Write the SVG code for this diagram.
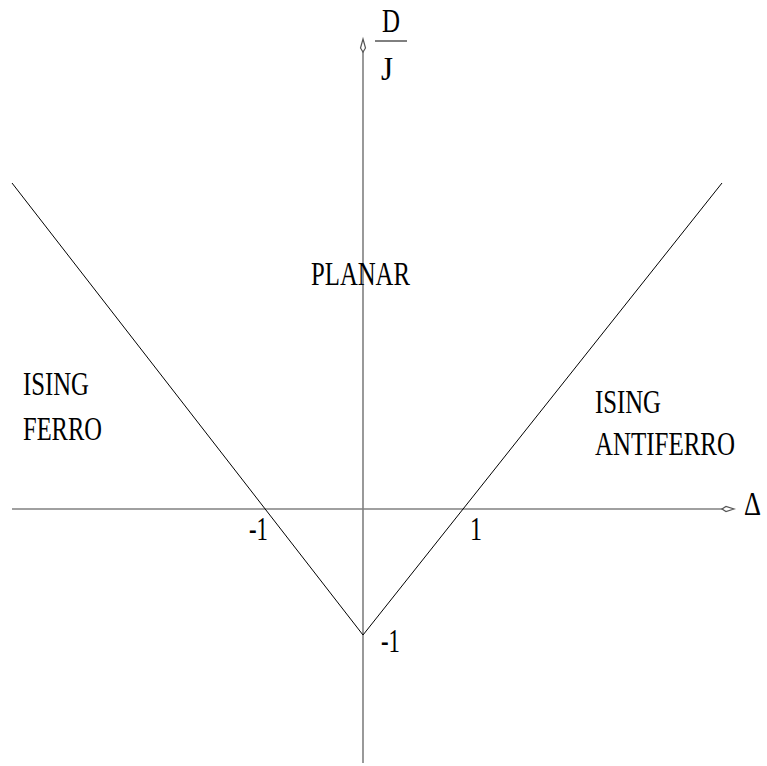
<svg xmlns="http://www.w3.org/2000/svg" width="767" height="766" viewBox="0 0 767 766">
<style>
.t{font-family:"Liberation Serif","Times New Roman",serif;font-size:33px;fill:#000}
.ax{stroke:#808080;stroke-width:1.6;fill:none}
.ln{stroke:#000;stroke-width:1;fill:none}
.ah{fill:#fff;stroke:#555;stroke-width:1.2}
</style>
<rect width="767" height="766" fill="#fff"/>
<g id="connectors">
<line class="ax" x1="363" y1="50" x2="363" y2="763"/>
<line class="ax" x1="12" y1="509" x2="724" y2="509"/>
<path class="ah" d="M363,39 L365.5,48 L363,52 L360.5,48 Z"/>
<path class="ah" d="M734,509 L726,511.5 L722,509 L726,506.5 Z"/>
<polyline class="ln" points="12,183 363,635 722,183"/>
</g>
<g id="axis-labels">
<text class="t" x="382" y="32" textLength="18" lengthAdjust="spacingAndGlyphs">D</text>
<line x1="375" y1="41" x2="407" y2="41" stroke="#000" stroke-width="1"/>
<text class="t" x="381" y="80" textLength="12" lengthAdjust="spacingAndGlyphs">J</text>
<text class="t" x="744" y="515" textLength="17" lengthAdjust="spacingAndGlyphs">Δ</text>
<text class="t" x="249" y="540" textLength="19" lengthAdjust="spacingAndGlyphs">-1</text>
<text class="t" x="470" y="540" textLength="12" lengthAdjust="spacingAndGlyphs">1</text>
<text class="t" x="381" y="652" textLength="19" lengthAdjust="spacingAndGlyphs">-1</text>
</g>
<g id="planar"><text class="t" x="311" y="285" textLength="99" lengthAdjust="spacingAndGlyphs">PLANAR</text></g>
<g id="ising-ferro">
<text class="t" x="23" y="395" textLength="66" lengthAdjust="spacingAndGlyphs">ISING</text>
<text class="t" x="23" y="440" textLength="79" lengthAdjust="spacingAndGlyphs">FERRO</text>
</g>
<g id="ising-antiferro">
<text class="t" x="595" y="413" textLength="66" lengthAdjust="spacingAndGlyphs">ISING</text>
<text class="t" x="595" y="455" textLength="140" lengthAdjust="spacingAndGlyphs">ANTIFERRO</text>
</g>
</svg>
